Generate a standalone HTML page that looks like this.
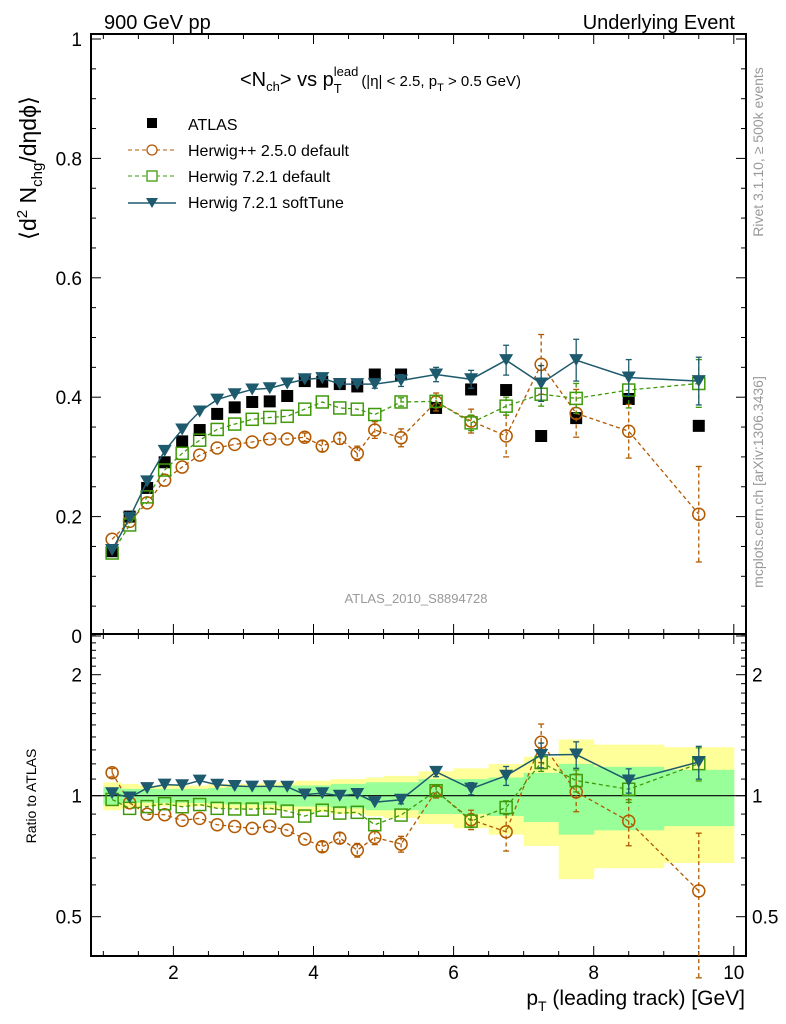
<!DOCTYPE html>
<html><head><meta charset="utf-8">
<style>
html,body{margin:0;padding:0;background:#fff;}
svg{display:block;font-family:"Liberation Sans","DejaVu Sans",sans-serif;}
</style></head>
<body>
<svg id="chart" width="786" height="1024" viewBox="0 0 786 1024" xmlns="http://www.w3.org/2000/svg">
<text x="104" y="29" font-size="20">900 GeV pp</text>
<text x="735" y="29" font-size="20" text-anchor="end">Underlying Event</text>
<text x="240" y="86" font-size="20">&lt;N<tspan font-size="13" dy="5">ch</tspan><tspan dy="-5">&gt; vs p</tspan><tspan font-size="13" dy="7">T</tspan><tspan font-size="13" dx="-8" dy="-17">lead</tspan><tspan font-size="15" dx="3" dy="10">(|η| &lt; 2.5, p</tspan><tspan font-size="11" dy="5">T</tspan><tspan font-size="15" dy="-5"> &gt; 0.5 GeV)</tspan></text>
<text transform="translate(36,168) rotate(-90)" font-size="23" text-anchor="middle">⟨d<tspan font-size="15" dy="-9">2</tspan><tspan dy="9"> N</tspan><tspan font-size="15" dy="6">chg</tspan><tspan dy="-6">/dηdϕ⟩</tspan></text>
<text transform="translate(36,796) rotate(-90)" font-size="14" text-anchor="middle">Ratio to ATLAS</text>
<text transform="translate(763,152) rotate(-90)" font-size="14" fill="#999" text-anchor="middle">Rivet 3.1.10, ≥ 500k events</text>
<text transform="translate(763,482) rotate(-90)" font-size="14" fill="#999" text-anchor="middle">mcplots.cern.ch [arXiv:1306.3436]</text>
<text x="416" y="603" font-size="13" fill="#999" text-anchor="middle">ATLAS_2010_S8894728</text>
<text x="745" y="1005" font-size="21" text-anchor="end">p<tspan font-size="14" dy="6">T</tspan><tspan dy="-6"> (leading track) [GeV]</tspan></text>
<g id="legend">
  <g><rect x="147" y="118" width="10" height="10" fill="#000"/><text x="188" y="130" font-size="16">ATLAS</text></g>
  <g><line x1="128" x2="176" y1="150" y2="150" stroke="#b35900" stroke-dasharray="4,3"/><circle cx="152" cy="150" r="5" fill="#fff" stroke="#b35900" stroke-width="1.3"/><text x="188" y="156" font-size="16">Herwig++ 2.5.0 default</text></g>
  <g><line x1="128" x2="176" y1="176" y2="176" stroke="#3f9a0a" stroke-dasharray="4,3"/><rect x="147" y="171" width="10" height="10" fill="#fff" stroke="#3f9a0a" stroke-width="1.3"/><text x="188" y="182" font-size="16">Herwig 7.2.1 default</text></g>
  <g><line x1="128" x2="176" y1="203" y2="203" stroke="#1e5a6e" stroke-width="1.5"/><path d="M146,198 L158,198 L152,208 Z" fill="#1e5a6e"/><text x="188" y="208" font-size="16">Herwig 7.2.1 softTune</text></g>
</g>
</svg>
<script>
const xCenters = [1.125,1.375,1.625,1.875,2.125,2.375,2.625,2.875,3.125,3.375,3.625,3.875,4.125,4.375,4.625,4.875,5.25,5.75,6.25,6.75,7.25,7.75,8.5,9.5];
const binEdges = [1,1.25,1.5,1.75,2,2.25,2.5,2.75,3,3.25,3.5,3.75,4,4.25,4.5,4.75,5,5.5,6,6.5,7,7.5,8,9,10];
const atlasValues = [0.142,0.2,0.248,0.291,0.326,0.345,0.372,0.383,0.392,0.393,0.402,0.427,0.426,0.422,0.418,0.438,0.438,0.382,0.413,0.412,0.335,0.365,0.397,0.352];
const herwigppValues = [0.162,0.192,0.223,0.261,0.283,0.303,0.315,0.321,0.325,0.33,0.33,0.333,0.318,0.331,0.306,0.345,0.332,0.392,0.36,0.335,0.455,0.373,0.343,0.204];
const herwigppErrors = [0.004,0.004,0.004,0.005,0.005,0.005,0.005,0.005,0.005,0.006,0.006,0.007,0.009,0.01,0.012,0.014,0.015,0.015,0.02,0.035,0.05,0.04,0.045,0.08];
const herwig721Values = [0.139,0.186,0.233,0.278,0.306,0.328,0.346,0.355,0.363,0.366,0.368,0.38,0.392,0.382,0.38,0.371,0.392,0.393,0.357,0.385,0.405,0.398,0.412,0.423];
const herwig721Errors = [0.003,0.003,0.003,0.003,0.003,0.003,0.003,0.004,0.004,0.004,0.004,0.004,0.005,0.005,0.005,0.006,0.007,0.01,0.013,0.015,0.02,0.025,0.03,0.04];
const softTuneValues = [0.144,0.198,0.259,0.31,0.346,0.376,0.396,0.405,0.413,0.415,0.423,0.43,0.432,0.422,0.422,0.422,0.428,0.438,0.43,0.462,0.423,0.462,0.433,0.427];
const softTuneErrors = [0.003,0.003,0.003,0.003,0.003,0.003,0.003,0.004,0.004,0.004,0.004,0.004,0.005,0.005,0.006,0.007,0.01,0.012,0.015,0.025,0.03,0.035,0.03,0.04];
const bandTotal = [0.08,0.07,0.06,0.06,0.06,0.06,0.07,0.07,0.07,0.08,0.08,0.09,0.09,0.1,0.1,0.11,0.12,0.15,0.17,0.2,0.25,0.38,0.34,0.32];
const bandStat = [0.05,0.04,0.04,0.04,0.04,0.04,0.045,0.05,0.05,0.05,0.06,0.06,0.06,0.07,0.07,0.08,0.08,0.1,0.1,0.11,0.14,0.2,0.18,0.16];
const mainTicks = [0,0.2,0.4,0.6,0.8,1];
const mainTickLabels = ["0","0.2","0.4","0.6","0.8","1"];
const ratioTicks = [0.5,1,2];
const ratioTickLabels = ["0.5","1","2"];
const xTicks = [2,4,6,8,10];
const xTickLabels = ["2","4","6","8","10"];

const NS = "http://www.w3.org/2000/svg";
const svg = document.getElementById('chart');
const L = 91, R = 746, MT = 34, MB = 634, RT = 634, RB = 956;
const xs = v => 33.3 + 70.05 * v;
const ym = v => 636 - 597 * v;
const yr = v => 795.7 - 121 * Math.log2(v);
function el(tag, attrs, parent) {
  const e = document.createElementNS(NS, tag);
  for (const k in attrs) e.setAttribute(k, attrs[k]);
  (parent || svg).appendChild(e);
  return e;
}
const bands = el('g', {});


[[bandTotal, '#ffff99'], [bandStat, '#99ff99']].forEach(([arr, col]) => {
  arr.forEach((u, i) => {
    const y1 = yr(1 + u), y2 = yr(1 - u);
    const r = el('rect', {x: xs(binEdges[i]), y: y1, width: xs(binEdges[i+1]) - xs(binEdges[i]) + 0.5, height: y2 - y1, fill: col}, bands);
    
    
  });
});
const unity = el('line', {x1: L, x2: R, y1: yr(1), y2: yr(1), stroke: '#000', 'stroke-width': 1.2});



function frame(top, bot, name) {
  const f = el('rect', {x: L, y: top, width: R - L, height: bot - top, fill: 'none', stroke: '#000', 'stroke-width': 2});
  
  
  for (let v = 1; v <= 10.01; v += 0.5) {
    const major = Math.abs(v - Math.round(v / 2) * 2) < 0.01;
    const len = major ? 10 : 5;
    el('line', {x1: xs(v), x2: xs(v), y1: top, y2: top + len, stroke: '#000'});
    el('line', {x1: xs(v), x2: xs(v), y1: bot, y2: bot - len, stroke: '#000'});
  }
}
frame(MT, MB, 'main-plot-frame');
frame(RT, RB, 'ratio-plot-frame');
for (let v = 0; v <= 1.001; v += 0.05) {
  const major = Math.abs(v * 5 - Math.round(v * 5)) < 0.01;
  const len = major ? 10 : 5;
  el('line', {x1: L, x2: L + len, y1: ym(v), y2: ym(v), stroke: '#000'});
  el('line', {x1: R, x2: R - len, y1: ym(v), y2: ym(v), stroke: '#000'});
}
mainTicks.forEach((v, i) => {
  const t = el('text', {x: 82, y: ym(v) + 7, 'font-size': 19, 'text-anchor': 'end'});
  t.textContent = mainTickLabels[i];
  
  
});
const minorR = [0.4,0.5,0.6,0.7,0.8,0.9,1,1.1,1.2,1.3,1.4,1.5,1.6,1.7,1.8,1.9,2,2.1,2.2,2.3,2.4,2.5];
minorR.forEach(v => {
  const major = ratioTicks.indexOf(v) >= 0;
  const len = major ? 10 : 5;
  el('line', {x1: L, x2: L + len, y1: yr(v), y2: yr(v), stroke: '#000'});
  el('line', {x1: R, x2: R - len, y1: yr(v), y2: yr(v), stroke: '#000'});
});
ratioTicks.forEach((v, i) => {
  const t = el('text', {x: 82, y: yr(v) + 7, 'font-size': 19, 'text-anchor': 'end'});
  t.textContent = ratioTickLabels[i];
  
  
  const t2 = el('text', {x: 752, y: yr(v) + 7, 'font-size': 19});
  t2.textContent = ratioTickLabels[i];
  
  
});
xTicks.forEach((v, i) => {
  const t = el('text', {x: xs(v), y: 979, 'font-size': 19, 'text-anchor': 'middle'});
  t.textContent = xTickLabels[i];
  
  
});

function series(vals, errs, color, dash, marker, name, yfun, ratio) {
  const g = el('g', {});
  
  
  const val = i => ratio ? vals[i] / atlasValues[i] : vals[i];
  const err = i => ratio ? errs[i] / atlasValues[i] : errs[i];
  const pts = xCenters.map((x, i) => xs(x) + ',' + yfun(val(i))).join(' ');
  el('polyline', {points: pts, fill: 'none', stroke: color, 'stroke-width': dash ? 1.3 : 1.5, 'stroke-dasharray': dash || 'none'}, g);
  xCenters.forEach((x, i) => {
    const cx = xs(x), cy = yfun(val(i));
    const ya = yfun(val(i) + err(i)), yb = yfun(Math.max(val(i) - err(i), 0.01));
    if (Math.abs(yb - ya) > 8) {
      el('line', {x1: cx, x2: cx, y1: ya, y2: yb, stroke: color, 'stroke-width': 1.3, 'stroke-dasharray': dash || 'none'}, g);
      el('line', {x1: cx - 3, x2: cx + 3, y1: ya, y2: ya, stroke: color, 'stroke-width': 1.3}, g);
      el('line', {x1: cx - 3, x2: cx + 3, y1: yb, y2: yb, stroke: color, 'stroke-width': 1.3}, g);
    }
    let m;
    if (marker === 'circle') m = el('circle', {cx, cy, r: 6, fill: 'none', stroke: color, 'stroke-width': 1.5}, g);
    else if (marker === 'square') m = el('rect', {x: cx - 6, y: cy - 6, width: 12, height: 12, fill: 'none', stroke: color, 'stroke-width': 1.5}, g);
    else m = el('path', {d: `M${cx-7},${cy-6} L${cx+7},${cy-6} L${cx},${cy+6} Z`, fill: color}, g);
    
    
  });
}
const ag = el('g', {});


xCenters.forEach((x, i) => {
  const r = el('rect', {x: xs(x) - 6, y: ym(atlasValues[i]) - 6, width: 12, height: 12, fill: '#000'}, ag);
  
  
});
series(herwigppValues, herwigppErrors, '#b35900', '4,3', 'circle', 'herwigpp-250-series', ym, false);
series(herwig721Values, herwig721Errors, '#3f9a0a', '4,3', 'square', 'herwig-721-series', ym, false);
series(softTuneValues, softTuneErrors, '#1e5a6e', null, 'tri', 'herwig-721-softtune-series', ym, false);
series(herwigppValues, herwigppErrors, '#b35900', '4,3', 'circle', 'herwigpp-250-ratio', yr, true);
series(herwig721Values, herwig721Errors, '#3f9a0a', '4,3', 'square', 'herwig-721-ratio', yr, true);
series(softTuneValues, softTuneErrors, '#1e5a6e', null, 'tri', 'herwig-721-softtune-ratio', yr, true);
</script>
</body></html>
